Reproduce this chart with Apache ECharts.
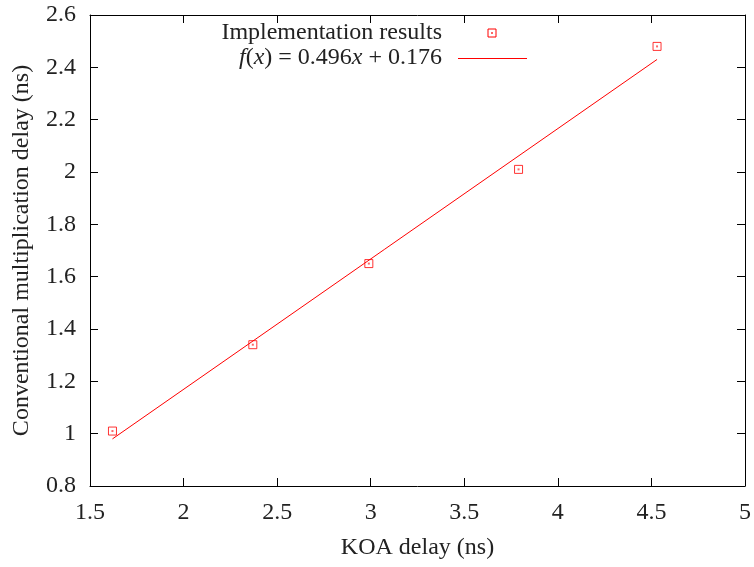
<!DOCTYPE html>
<html><head><meta charset="utf-8">
<script src="https://cdn.jsdelivr.net/npm/echarts@6/dist/echarts.min.js"></script>
<style>html,body{margin:0;padding:0;background:#fff}#c{width:754px;height:567px}</style>
</head><body><div id="c"></div>
<script>
const koaDelay = [1.62, 2.37, 2.99, 3.79, 4.53];
const convDelay = [1.01, 1.34, 1.65, 2.01, 2.48];
const fitX = [1.62, 4.53];
const fitY = [0.98, 2.43];
const xTicks = [1.5, 2, 2.5, 3, 3.5, 4, 4.5, 5];
const yTicks = [0.8, 1, 1.2, 1.4, 1.6, 1.8, 2, 2.2, 2.4, 2.6];

const FONT = '"Liberation Serif", "DejaVu Serif", serif';
const FS = 24;
const pts = koaDelay.map((x, i) => [x, convDelay[i]]);
const fit = fitX.map((x, i) => [x, fitY[i]]);
const fmt = v => String(+v.toFixed(1));

const chart = echarts.init(document.getElementById('c'), null, {renderer: 'canvas'});
const axisCommon = {
  axisLine: {show: true, onZero: false, lineStyle: {color: '#000', width: 1}},
  axisTick: {show: true, inside: true, length: 8, lineStyle: {color: '#000'}},
  splitLine: {show: false}
};
chart.setOption({
  animation: false,
  backgroundColor: '#fff',
  grid: {left: 90, right: 9, top: 15, bottom: 81},
  xAxis: [
    Object.assign({}, axisCommon, {
      type: 'value', min: xTicks[0], max: xTicks[xTicks.length - 1], interval: 0.5,
      name: 'KOA delay (ns)', nameLocation: 'middle', nameGap: 50,
      nameTextStyle: {fontFamily: FONT, fontSize: FS, color: '#222'},
      axisLabel: {fontFamily: FONT, fontSize: FS, color: '#222', margin: 15, formatter: fmt}
    }),
    Object.assign({}, axisCommon, {
      type: 'value', position: 'top', min: xTicks[0], max: xTicks[xTicks.length - 1], interval: 0.5,
      axisLabel: {show: false}
    })
  ],
  yAxis: [
    Object.assign({}, axisCommon, {
      type: 'value', min: yTicks[0], max: yTicks[yTicks.length - 1], interval: 0.2,
      name: 'Conventional multiplication delay (ns)', nameLocation: 'middle', nameGap: 56,
      nameTextStyle: {fontFamily: FONT, fontSize: FS, color: '#222'},
      axisLabel: {fontFamily: FONT, fontSize: FS, color: '#222', margin: 14, formatter: fmt}
    }),
    Object.assign({}, axisCommon, {
      type: 'value', position: 'right', min: yTicks[0], max: yTicks[yTicks.length - 1], interval: 0.2,
      axisLabel: {show: false}
    })
  ],
  series: [
    {
      name: 'f(x)', type: 'line', data: fit, symbol: 'none',
      lineStyle: {color: '#ff0000', width: 1}
    },
    {
      name: 'Implementation results', type: 'scatter', data: pts,
      symbol: 'rect', symbolSize: 8,
      itemStyle: {color: 'rgba(0,0,0,0)', borderColor: '#ff0000', borderWidth: 1}
    },
    {
      name: 'dot', type: 'scatter', data: pts, symbol: 'rect', symbolSize: 2,
      itemStyle: {color: '#ff0000', opacity: 0.6}
    }
  ],
  graphic: [
    {type: 'text', x: 442, y: 33,
     style: {text: 'Implementation results', font: FS + 'px ' + FONT, fill: '#222', textAlign: 'right', textVerticalAlign: 'middle'}},
    {type: 'rect', x: 488, y: 29, shape: {width: 8, height: 8},
     style: {fill: 'none', stroke: '#ff0000', lineWidth: 1}},
    {type: 'rect', x: 491, y: 32, shape: {width: 2, height: 2},
     style: {fill: '#ff0000', opacity: 0.6}},
    {type: 'text', x: 442, y: 58,
     style: {
       text: '{i|f}({i|x}) = 0.496{i|x} + 0.176',
       font: FS + 'px ' + FONT, fill: '#222', textAlign: 'right', textVerticalAlign: 'middle',
       rich: {i: {fontStyle: 'italic', fontFamily: FONT, fontSize: FS, fill: '#222'}}
     }},
    {type: 'line', shape: {x1: 458, y1: 58.5, x2: 527, y2: 58.5},
     style: {stroke: '#ff0000', lineWidth: 1}}
  ]
});
</script></body></html>
